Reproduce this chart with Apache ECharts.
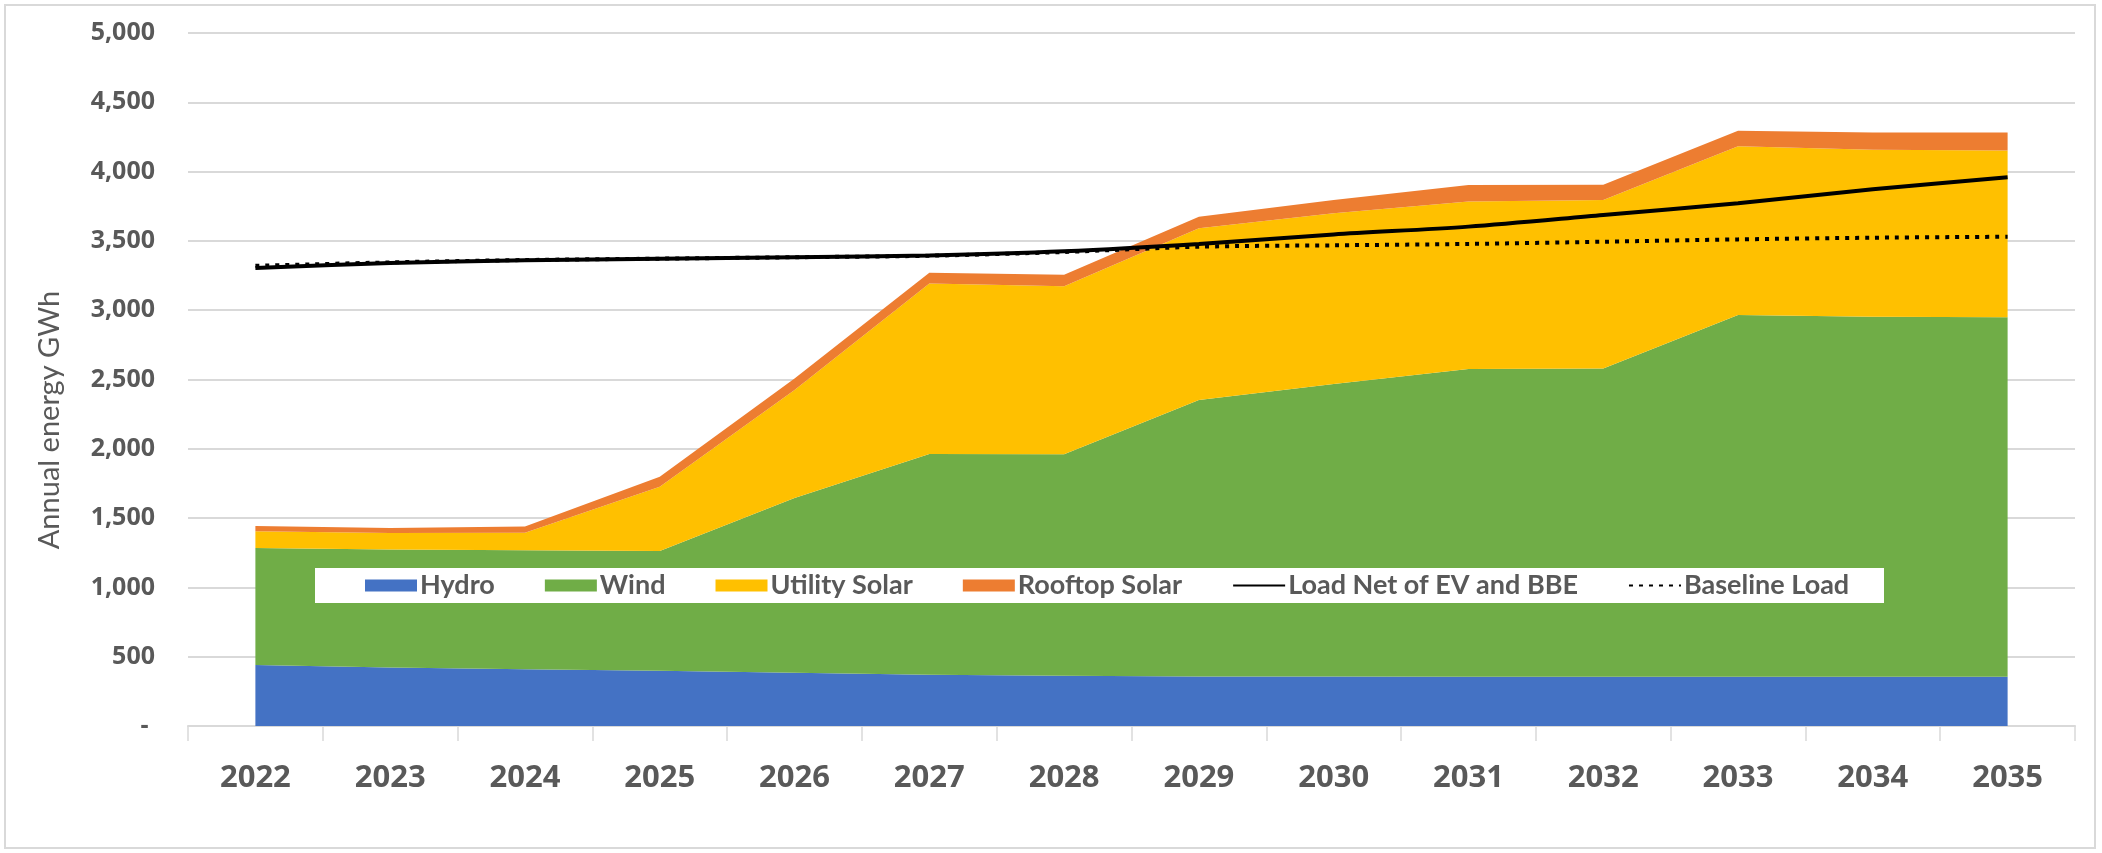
<!DOCTYPE html>
<html>
<head>
<meta charset="utf-8">
<title>Annual energy GWh</title>
<script src="https://cdn.jsdelivr.net/npm/echarts@6/dist/echarts.min.js"></script>
<style>
  html, body { margin: 0; padding: 0; background: #ffffff; }
  #chart { width: 2102px; height: 853px; }
</style>
</head>
<body>
<div id="chart"></div>
<script>
// Years on the category axis
const years = ['2022', '2023', '2024', '2025', '2026', '2027', '2028',
               '2029', '2030', '2031', '2032', '2033', '2034', '2035'];

// Generation by source, GWh (stacked areas)
const hydro        = [440, 422, 410, 398, 385, 370, 362, 358, 357, 356, 356, 356, 356, 356];
const wind         = [845, 851, 858, 864, 1260, 1592, 1598, 1994, 2110, 2219, 2224, 2609, 2597, 2594];
const utilitySolar = [120, 119, 127, 465, 779, 1230, 1212, 1239, 1232, 1210, 1215, 1217, 1204, 1202];
const rooftopSolar = [38, 36, 45, 72, 84, 79, 83, 84, 96, 118, 110, 113, 126, 131];

// Load lines, GWh
const loadNet      = [3305, 3340, 3360, 3372, 3382, 3395, 3425, 3478, 3547, 3603, 3687, 3771, 3872, 3959];
const baselineLoad = [3320, 3345, 3362, 3372, 3382, 3393, 3420, 3458, 3468, 3478, 3494, 3511, 3523, 3530];

const GRID = { left: 188, right: 27, top: 33, bottom: 127 };
const TEXT_GRAY = '#595959';
const LINE_GRAY = '#D9D9D9';

function thousands(v) {
  if (v === 0) return '- ';
  return String(v).replace(/\B(?=(\d{3})+(?!\d))/g, ',');
}

function areaSeries(name, data, color) {
  return {
    name: name,
    type: 'line',
    stack: 'generation',
    data: data,
    symbol: 'none',
    lineStyle: { width: 0 },
    itemStyle: { color: color },
    areaStyle: { color: color, opacity: 1 },
    emphasis: { disabled: true },
    z: 2
  };
}

const chart = echarts.init(document.getElementById('chart'), null, { renderer: 'canvas' });

chart.setOption({
  backgroundColor: '#ffffff',
  animation: false,
  grid: GRID,
  graphic: [
    {
      type: 'rect',
      shape: { x: 5, y: 5, width: 2090, height: 843 },
      style: { fill: 'none', stroke: LINE_GRAY, lineWidth: 2 },
      z: 0
    },
    {
      // white band behind the legend
      type: 'rect',
      shape: { x: 315, y: 568, width: 1569, height: 35 },
      style: { fill: '#ffffff' },
      z: 3
    },
    {
      // value axis title
      type: 'text',
      x: 50,
      y: 420,
      rotation: Math.PI / 2,
      style: {
        text: 'Annual energy GWh',
        fontFamily: 'Lato',
        fontSize: 29,
        fill: TEXT_GRAY,
        align: 'center',
        verticalAlign: 'middle'
      },
      z: 3
    }
  ],
  legend: {
    left: 365,
    top: 572,
    padding: 0,
    itemGap: 50,
    itemWidth: 52,
    itemHeight: 12,
    z: 5,
    textStyle: {
      fontFamily: 'Lato',
      fontWeight: 'bold',
      fontSize: 27,
      color: TEXT_GRAY,
      padding: [0, 0, 0, -2]
    },
    data: [
      { name: 'Hydro', icon: 'rect' },
      { name: 'Wind', icon: 'rect' },
      { name: 'Utility Solar', icon: 'rect' },
      { name: 'Rooftop Solar', icon: 'rect' },
      { name: 'Load Net of EV and BBE', itemStyle: { opacity: 0 } },
      { name: 'Baseline Load', itemStyle: { opacity: 0 } }
    ]
  },
  xAxis: {
    type: 'category',
    data: years,
    boundaryGap: true,
    axisLine: { show: true, lineStyle: { color: LINE_GRAY, width: 2 } },
    axisTick: { show: true, length: 15, lineStyle: { color: LINE_GRAY, width: 1.5 } },
    axisLabel: {
      margin: 37,
      fontFamily: 'Open Sans',
      fontWeight: 'bold',
      fontSize: 31,
      color: TEXT_GRAY
    },
    splitLine: { show: false }
  },
  yAxis: {
    type: 'value',
    min: 0,
    max: 5000,
    interval: 500,
    axisLine: { show: false },
    axisTick: { show: false },
    axisLabel: {
      margin: 33,
      fontFamily: 'Open Sans',
      fontWeight: 'bold',
      fontSize: 25,
      color: TEXT_GRAY,
      formatter: thousands
    },
    splitLine: { lineStyle: { color: LINE_GRAY, width: 2 } }
  },
  series: [
    areaSeries('Hydro', hydro, '#4472C4'),
    areaSeries('Wind', wind, '#70AD47'),
    areaSeries('Utility Solar', utilitySolar, '#FFC000'),
    areaSeries('Rooftop Solar', rooftopSolar, '#ED7D31'),
    {
      name: 'Load Net of EV and BBE',
      type: 'line',
      data: loadNet,
      symbol: 'none',
      smooth: 0.3,
      itemStyle: { color: '#000000' },
      lineStyle: { color: '#000000', width: 4 },
      emphasis: { disabled: true },
      z: 3
    },
    {
      name: 'Baseline Load',
      type: 'line',
      data: baselineLoad,
      symbol: 'none',
      smooth: 0.3,
      itemStyle: { color: '#000000' },
      lineStyle: { color: '#000000', width: 4, type: [4, 6] },
      emphasis: { disabled: true },
      z: 3
    }
  ]
});
</script>
</body>
</html>
